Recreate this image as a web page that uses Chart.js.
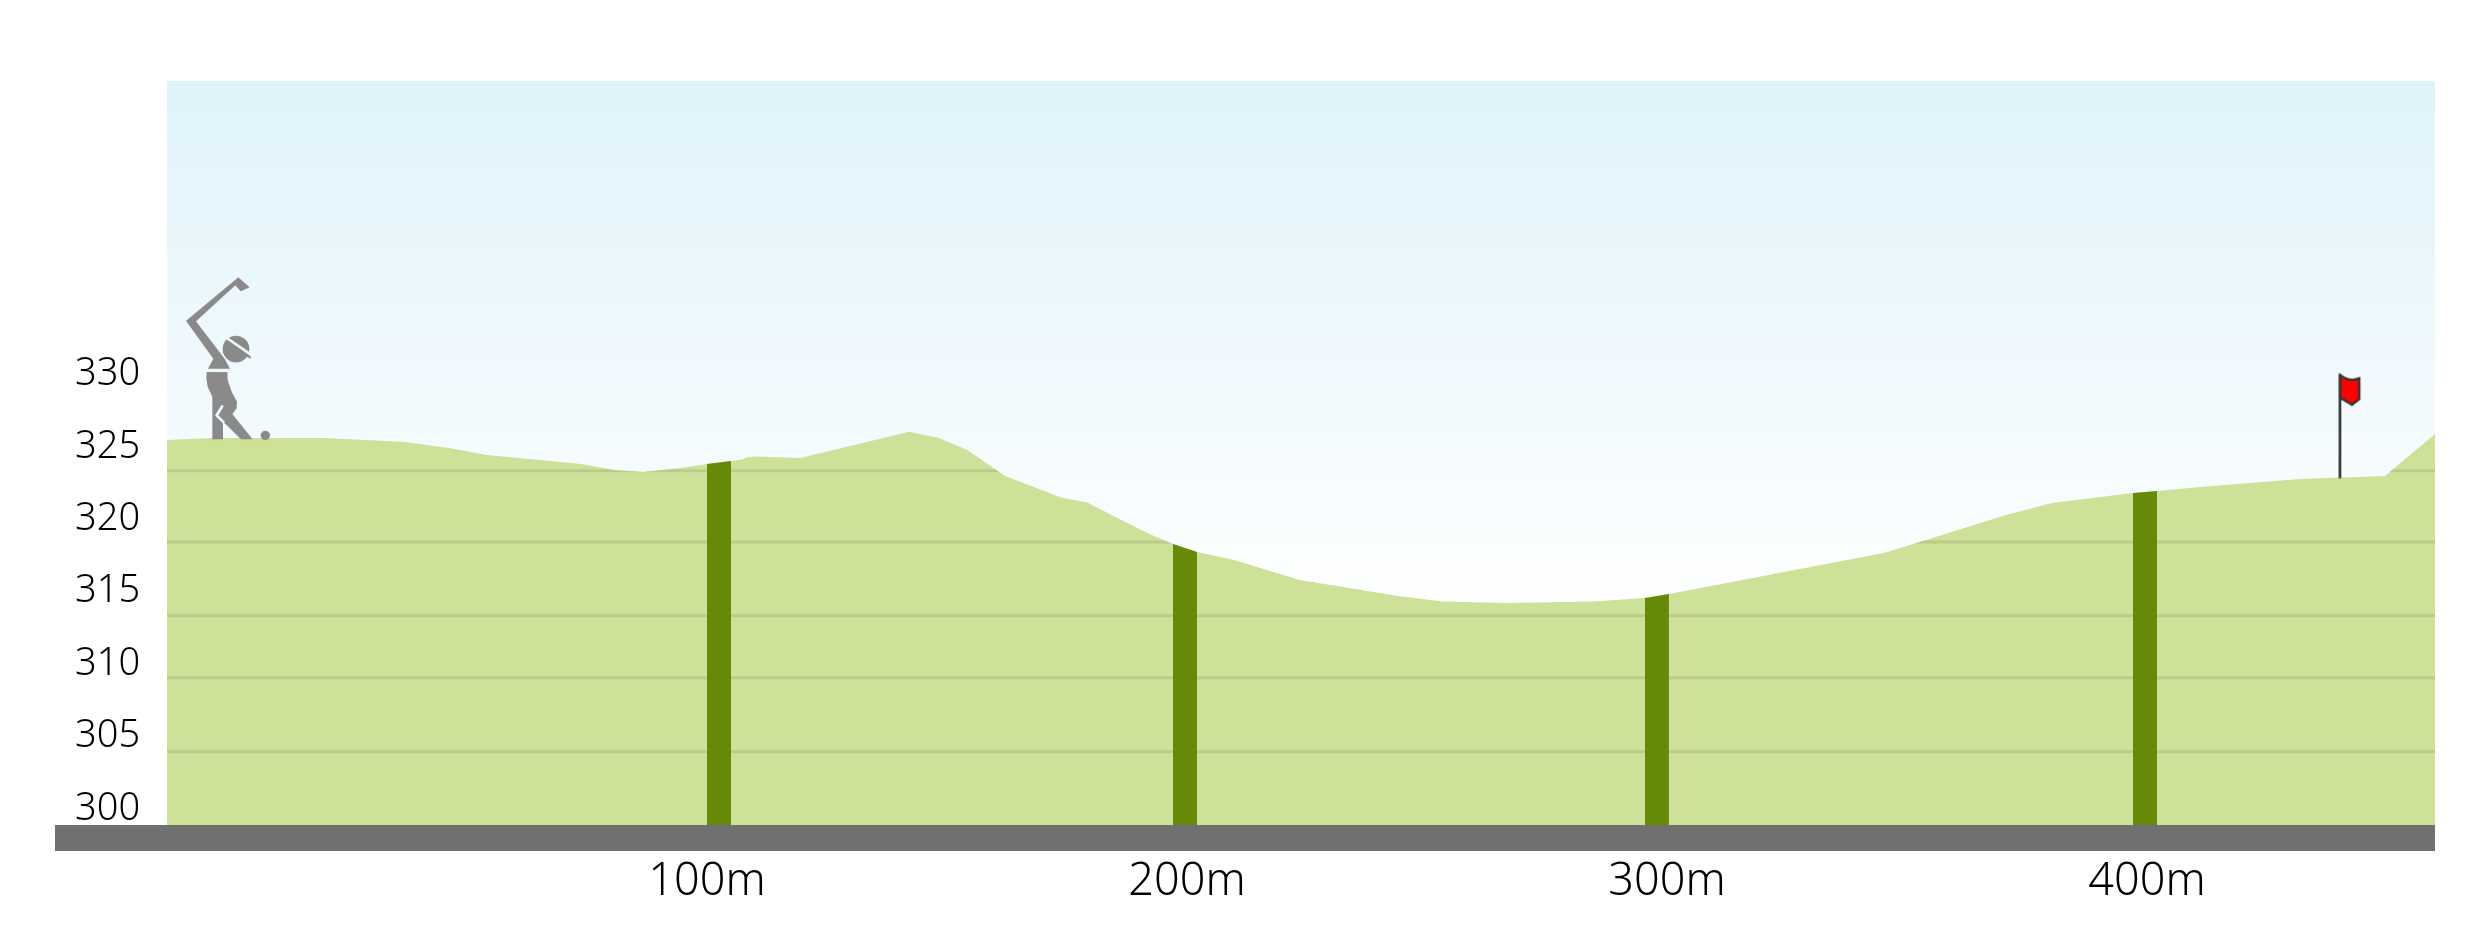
<!DOCTYPE html>
<html>
<head>
<meta charset="utf-8">
<style>html,body{margin:0;padding:0;background:#fff}canvas{display:block}</style>
<script src="https://cdn.jsdelivr.net/npm/chart.js@4/dist/chart.umd.min.js"></script>
</head>
<body>
<canvas id="c" width="2491" height="933"></canvas>
<script>
const xTicks = [100, 200, 300, 400];
const yTicks = [300, 305, 310, 315, 320, 325, 330];
const distance = [-12.5,-3.33,20.6,37.1,46.25,54.2,73.75,80.6,86.7,94.4,100,105,107.3,108.5,110.4,119.4,142.1,148.3,154.2,162.1,173.75,179.2,191.7,197.1,202.1,209.8,223.5,244,253.3,266.7,284.6,295.4,300.4,345.2,353.3,370.6,380.2,397.1,402.1,411,431.9,449.6,460];
const elevation = [325.2,325.34,325.34,325.06,324.64,324.16,323.54,323.12,322.99,323.26,323.54,323.75,323.85,324.02,324.06,323.95,325.77,325.34,324.51,322.71,321.22,320.88,318.77,318.01,317.46,316.91,315.52,314.42,314.04,313.94,314.04,314.28,314.56,317.39,318.22,320.02,320.84,321.54,321.67,321.95,322.5,322.71,325.61];
const gridLevels = [303.66, 308.77, 313.06, 318.15, 323.08];
const markerLeft = [100, 197.08, 295.4, 397.08];
const markerRight = [105, 202.08, 300.4, 402.08];
const markerTopLeft = [323.54, 318.01, 314.28, 321.54];
const markerTopRight = [323.75, 317.46, 314.56, 321.67];
const xMin = -35.83, xMax = 460, yMin = 296.8, yMax = 350;
const baseLevel = 298.6, terrainStart = -12.5;
const golferPos = {x: -7.71, y: 330.72};
const flagPos = {x: 441.94, y: 326.12};

function poly(g, pts){ g.beginPath(); pts.forEach((p,i)=> i?g.lineTo(p[0],p[1]):g.moveTo(p[0],p[1])); g.closePath(); g.fill(); }
function golferIcon(){
  const cv = document.createElement('canvas'); cv.width = 300; cv.height = 220;
  const g = cv.getContext('2d');
  g.scale(1/3, 1/3);
  g.fillStyle = '#8a8a8a';
  poly(g, [[595,82],[629,112],[602,124],[586,106],[468,214],[555,328],[570,356],[504,356],[520,326],[438,212]]);
  g.beginPath(); g.arc(588,297,40,0,Math.PI*2); g.fill();
  poly(g, [[600,310],[632,310],[632,326]]);
  g.globalCompositeOperation = 'destination-out';
  g.lineWidth = 8; g.beginPath(); g.moveTo(552,258); g.lineTo(636,316); g.stroke();
  g.globalCompositeOperation = 'source-over';
  poly(g, [[500,366],[562,366],[563,390],[575,425],[591,455],[590,475],[577,492],[638,568],[603,568],[560,525],[549,515],[549,568],[517,568],[517,440],[503,410],[499,385]]);
  g.globalCompositeOperation = 'destination-out';
  g.lineWidth = 8; g.beginPath(); g.moveTo(548,466); g.lineTo(530,496); g.lineTo(552,518); g.stroke();
  g.globalCompositeOperation = 'source-over';
  g.beginPath(); g.arc(676,556,14,0,Math.PI*2); g.fill();
  return cv;
}
function flagIcon(){
  const cv = document.createElement('canvas'); cv.width = 30; cv.height = 114;
  const g = cv.getContext('2d');
  g.scale(1/3, 1/3);
  g.translate(-250,-90);
  g.strokeStyle = '#333'; g.lineWidth = 8;
  g.beginPath(); g.moveTo(270,104); g.lineTo(270,416); g.stroke();
  g.lineWidth = 7; g.fillStyle = '#f00';
  g.beginPath(); g.moveTo(271,106); g.quadraticCurveTo(298,128,328,116); g.lineTo(328,178); g.lineTo(306,195); g.lineTo(271,174); g.closePath();
  g.fill(); g.stroke();
  return cv;
}

const gridPlugin = {
  id: 'terrainGrid',
  afterDatasetDraw(chart, args){
    if (chart.data.datasets[args.index].label !== 'Terrain') return;
    const {ctx, chartArea, scales} = chart;
    const pts = args.meta.data;
    ctx.save();
    ctx.beginPath();
    pts.forEach((p,i)=> i?ctx.lineTo(p.x,p.y):ctx.moveTo(p.x,p.y));
    ctx.lineTo(pts[pts.length-1].x, chartArea.bottom);
    ctx.lineTo(pts[0].x, chartArea.bottom);
    ctx.closePath();
    ctx.clip();
    ctx.strokeStyle = '#bccb8c';
    ctx.lineWidth = 3;
    gridLevels.forEach(v=>{
      const y = scales.y.getPixelForValue(v);
      ctx.beginPath(); ctx.moveTo(chartArea.left,y); ctx.lineTo(chartArea.right,y); ctx.stroke();
    });
    ctx.restore();
  }
};

const base = {type:'line', borderWidth:0, pointRadius:0, tension:0};
const markers = markerLeft.map((l,i)=>({...base, label:'Marker '+xTicks[i],
  data:[{x:l,y:markerTopLeft[i]},{x:markerRight[i],y:markerTopRight[i]}],
  backgroundColor:'#648a08', fill:{value:baseLevel}}));
const font = {family:'"Noto Sans","Open Sans",sans-serif', weight:300};

new Chart(document.getElementById('c'), {
  type:'line',
  plugins:[gridPlugin],
  data:{datasets:[
    {label:'Flag', data:[flagPos], showLine:false, pointStyle:flagIcon(), pointRadius:1},
    {label:'Golfer', data:[golferPos], showLine:false, pointStyle:golferIcon(), pointRadius:1},
    ...markers,
    {...base, label:'Ground', data:[{x:xMin,y:baseLevel},{x:xMax,y:baseLevel}], backgroundColor:'#707070', fill:'start'},
    {...base, label:'Terrain', data:distance.map((x,i)=>({x,y:elevation[i]})), backgroundColor:'#cee198', fill:{value:baseLevel}},
    {...base, label:'Sky', data:[{x:terrainStart,y:yMax},{x:xMax,y:yMax}], fill:{value:baseLevel},
      backgroundColor(ctx){
        const a = ctx.chart.chartArea; if(!a) return '#e0f3fb';
        const g = ctx.chart.ctx.createLinearGradient(0,a.top,0,a.top+530);
        g.addColorStop(0,'#dff3fb'); g.addColorStop(1,'#ffffff');
        return g;
      }}
  ]},
  options:{
    responsive:false, animation:false, events:[],
    layout:{padding:{left:55,right:56,top:81,bottom:0}},
    plugins:{legend:{display:false},tooltip:{enabled:false},title:{display:false}},
    scales:{
      x:{type:'linear',min:xMin,max:xMax,
        grid:{display:false,drawTicks:false},border:{display:false},
        afterBuildTicks(s){s.ticks=xTicks.map(value=>({value}));},
        afterFit(s){s.height=82;},
        ticks:{autoSkip:false,maxRotation:0,padding:4,color:'#000',font:{...font,size:45},callback:v=>v+'m'}},
      y:{type:'linear',min:yMin,max:yMax,
        grid:{display:false,drawTicks:false},border:{display:false},
        afterBuildTicks(s){s.ticks=yTicks.map(value=>({value}));},
        afterFit(s){s.width=0;},
        ticks:{mirror:true,padding:20,labelOffset:4,autoSkip:false,color:'#000',font:{...font,size:38},callback:v=>String(v)}}
    }
  }
});
</script>
</body>
</html>
